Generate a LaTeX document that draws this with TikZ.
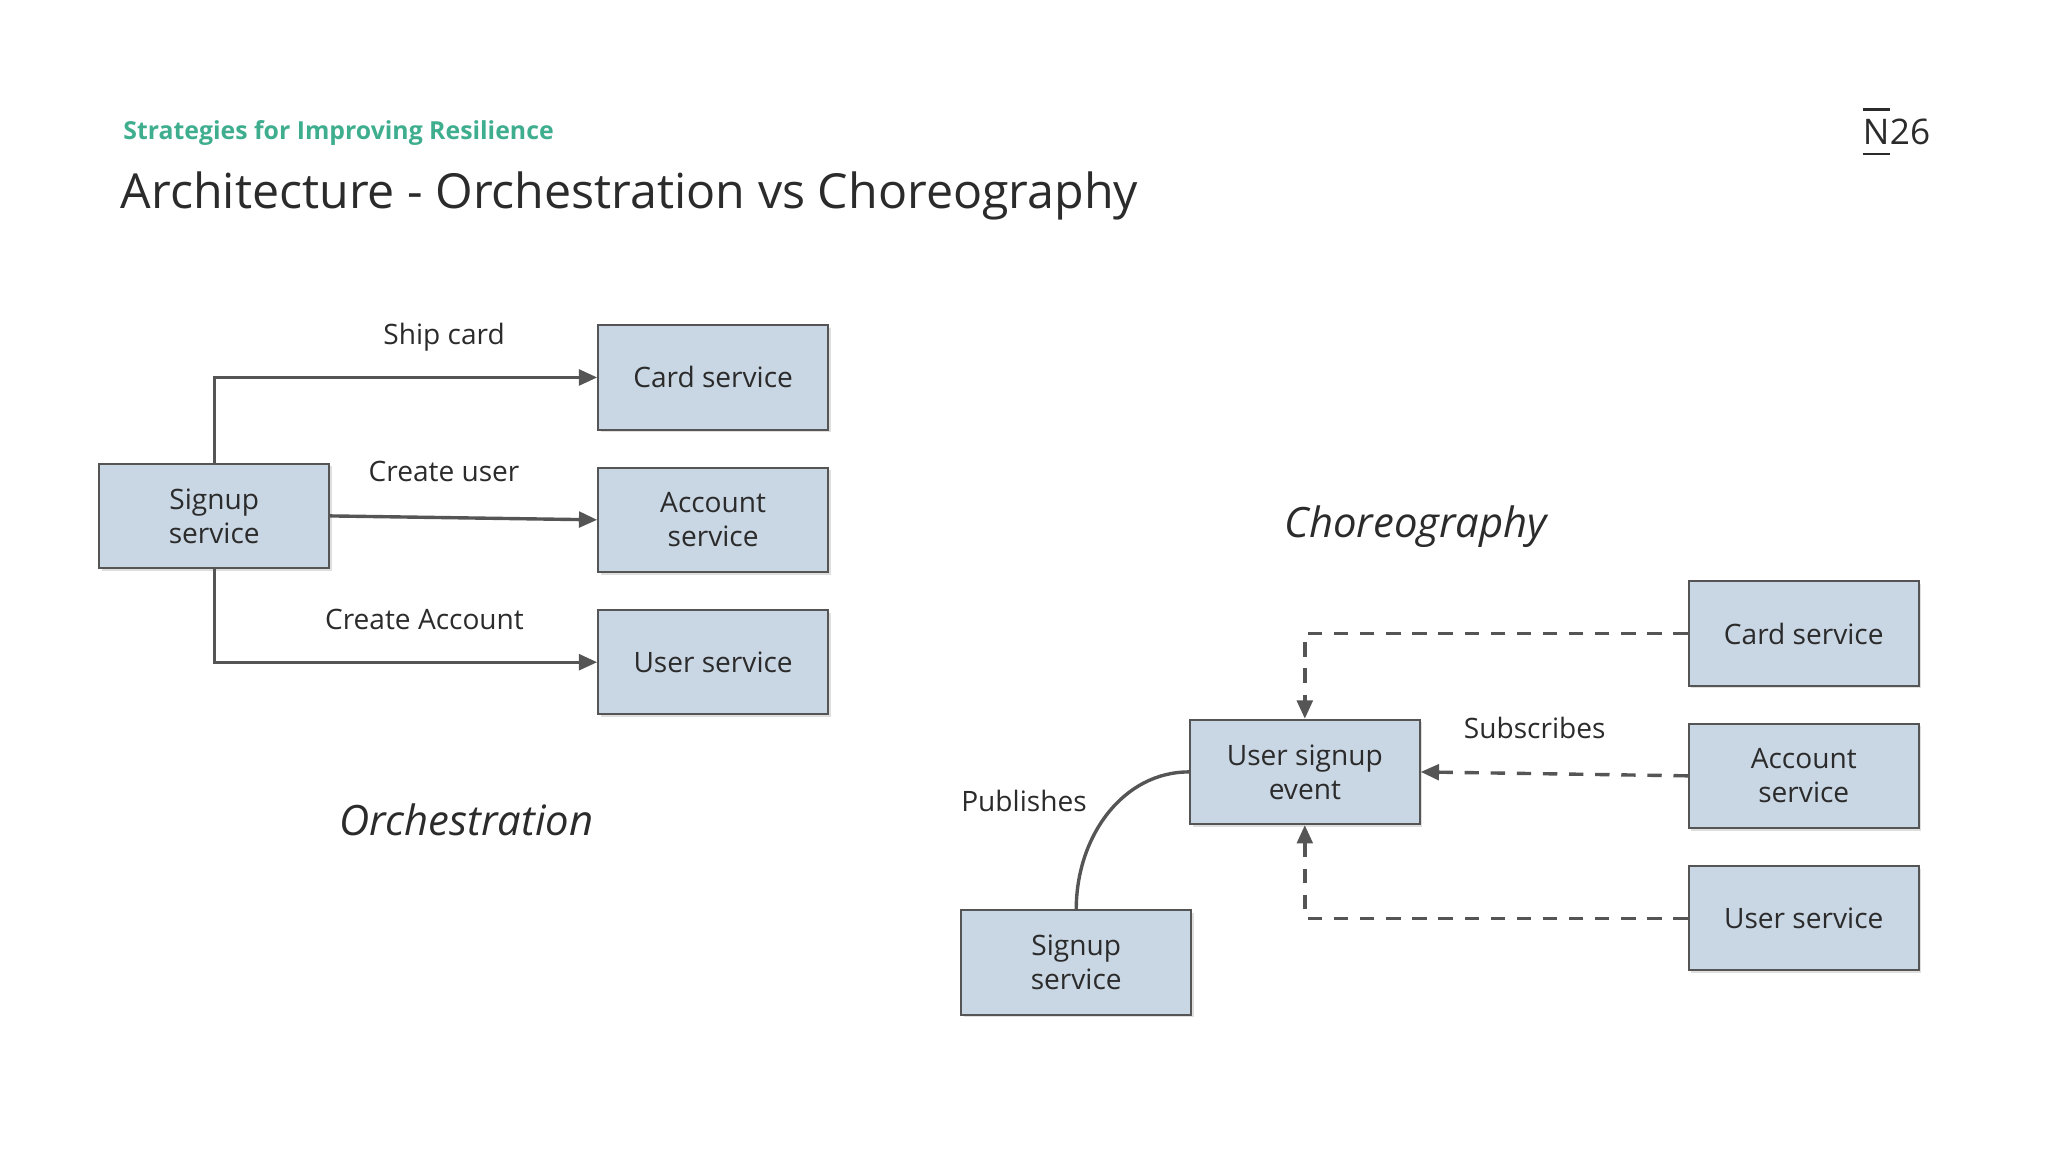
\documentclass[tikz,border=0pt]{standalone}
\usepackage{fontspec}
\setmainfont{Open Sans}
\usetikzlibrary{arrows.meta,shadows}
\definecolor{boxfill}{HTML}{C9D6E3}
\definecolor{edge}{HTML}{555555}
\definecolor{teal}{HTML}{3FAE8F}
\definecolor{ink}{HTML}{2B2B2B}
\tikzset{
 svc/.style={draw=edge,fill=boxfill,line width=1.5pt,minimum width=176pt,minimum height=80pt,align=center,font=\fontsize{21.5}{26}\selectfont,text=ink,drop shadow={shadow xshift=2pt,shadow yshift=-2pt,opacity=0.25}},
 conn/.style={draw=edge,line width=2.6pt,-{Triangle[length=14pt,width=12pt]}},
 dconn/.style={conn,dash pattern=on 11pt off 9pt},
 lbl/.style={font=\fontsize{21.5}{26}\selectfont,text=ink},
 big/.style={font=\fontsize{32}{36}\selectfont\itshape,text=ink}
}
\begin{document}
\begin{tikzpicture}[x=1pt,y=-1pt]
\useasboundingbox (0,0) rectangle (1568,882);
\node[anchor=west,font=\fontsize{19}{22}\selectfont\bfseries,text=teal] (sub) at (91,102) {Strategies for Improving Resilience};
\node[anchor=west,font=\fontsize{37}{42}\selectfont,text=ink] (title) at (89,150) {Architecture - Orchestration vs Choreography};
\node[font=\fontsize{27}{32}\selectfont,text=ink,inner sep=0pt,anchor=west] (logoN) at (1426,101) {N};
\node[font=\fontsize{27}{32}\selectfont,text=ink,inner sep=0pt,anchor=west] (logo26) at (logoN.east) {26};
\draw[ink,line width=2pt] (logoN.west |- 0,84) -- (logoN.east |- 0,84);
\draw[ink,line width=2pt] (logoN.west |- 0,118) -- (logoN.east |- 0,118);
% orchestration
\node[svc] (os) at (164,395) {Signup\\service};
\node[svc] (oc) at (546,289) {Card service};
\node[svc] (oa) at (546,398) {Account\\service};
\node[svc] (ou) at (546,507) {User service};
\draw[conn] (os.north) |- (oc.west);
\draw[conn] (os.east) -- (oa.west);
\draw[conn] (os.south) |- (ou.west);
\node[lbl] (l1) at (340,258) {Ship card};
\node[lbl] (l2) at (340,361) {Create user};
\node[lbl] (l3) at (325,474) {Create Account};
\node[big] (orch) at (357,628) {Orchestration};
% choreography
\node[big] (chor) at (1084,403) {Choreography};
\node[svc] (ev) at (999,591) {User signup\\event};
\node[svc] (cc) at (1381,485) {Card service};
\node[svc] (ca) at (1381,594) {Account\\service};
\node[svc] (cu) at (1381,703) {User service};
\node[svc] (cs) at (824,737) {Signup\\service};
\draw[dconn] (cc.west) -| (ev.north);
\draw[dconn] (ca.west) -- (ev.east);
\draw[dconn] (cu.west) -| (ev.south);
\draw[edge,line width=2.6pt] (cs.north) .. controls (824,640) and (860,591) .. (ev.west);
\node[lbl] (pub) at (784,613) {Publishes};
\node[lbl] (subs) at (1175,557) {Subscribes};
\end{tikzpicture}
\end{document}
